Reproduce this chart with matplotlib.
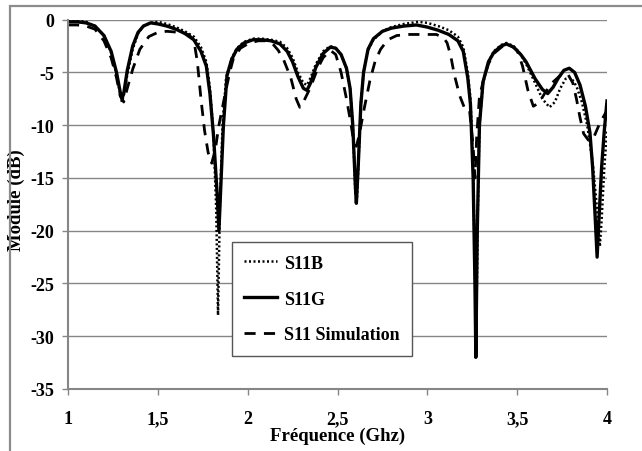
import numpy as np
import matplotlib.pyplot as plt
from matplotlib.patches import Rectangle

# S11 mesure G (solid)
freq_g = [1.00, 1.05, 1.10, 1.15, 1.20, 1.24, 1.27, 1.29, 1.30, 1.31, 1.33, 1.36, 1.39, 1.42,
          1.46, 1.50, 1.55, 1.60, 1.65, 1.70, 1.74, 1.77, 1.79, 1.81, 1.83, 1.84, 1.85, 1.865,
          1.885, 1.91, 1.94, 1.98, 2.03, 2.08, 2.13, 2.18, 2.22, 2.25, 2.28, 2.31, 2.33, 2.35,
          2.38, 2.42, 2.46, 2.49, 2.52, 2.55, 2.57, 2.585, 2.60, 2.605, 2.615, 2.63, 2.645,
          2.67, 2.70, 2.75, 2.80, 2.87, 2.94, 3.00, 3.06, 3.12, 3.17, 3.20, 3.225, 3.24, 3.255,
          3.265, 3.27, 3.278, 3.29, 3.31, 3.34, 3.37, 3.41, 3.44, 3.48, 3.52, 3.55, 3.60, 3.64,
          3.67, 3.70, 3.73, 3.76, 3.79, 3.82, 3.85, 3.88, 3.905, 3.92, 3.935, 3.945, 3.955,
          3.97, 3.985, 4.00]
s11g = [-0.2, -0.2, -0.3, -0.6, -1.5, -3.0, -5.0, -6.8, -7.5, -7.0, -4.8, -2.5, -1.2, -0.6,
        -0.3, -0.4, -0.6, -0.9, -1.3, -1.9, -3.0, -4.4, -7.0, -11.0, -16.5, -20.0, -16.0, -10.0,
        -5.3, -3.8, -2.8, -2.2, -1.9, -1.9, -2.0, -2.3, -3.0, -4.0, -5.4, -6.5, -6.7, -6.0,
        -4.5, -3.2, -2.6, -2.7, -3.3, -4.6, -6.5, -10.0, -16.0, -17.4, -14.0, -8.0, -5.0,
        -2.8, -1.8, -1.1, -0.8, -0.6, -0.5, -0.7, -1.0, -1.4, -2.0, -3.0, -5.5, -8.0, -15.0,
        -25.0, -32.0, -20.0, -10.0, -5.9, -4.0, -3.1, -2.5, -2.3, -2.6, -3.3, -4.0, -5.6, -6.6,
        -7.0, -6.4, -5.5, -4.8, -4.6, -5.0, -6.2, -8.2, -10.7, -14.0, -19.0, -22.5, -19.0,
        -14.0, -10.5, -7.7]

# S11 mesure B (dotted)
freq_b = [1.00, 1.05, 1.10, 1.15, 1.20, 1.24, 1.27, 1.29, 1.30, 1.31, 1.33, 1.36, 1.39, 1.42,
          1.46, 1.50, 1.55, 1.60, 1.65, 1.70, 1.74, 1.77, 1.79, 1.81, 1.825, 1.835, 1.845, 1.86,
          1.88, 1.91, 1.94, 1.98, 2.03, 2.08, 2.13, 2.18, 2.22, 2.25, 2.28, 2.31, 2.33, 2.35,
          2.38, 2.42, 2.46, 2.49, 2.52, 2.55, 2.57, 2.585, 2.60, 2.608, 2.618, 2.63, 2.645,
          2.67, 2.70, 2.75, 2.80, 2.87, 2.95, 3.00, 3.06, 3.12, 3.17, 3.20, 3.225, 3.24, 3.255,
          3.265, 3.272, 3.28, 3.29, 3.31, 3.34, 3.37, 3.41, 3.44, 3.48, 3.52, 3.55, 3.60, 3.64,
          3.68, 3.71, 3.74, 3.77, 3.80, 3.83, 3.86, 3.89, 3.92, 3.945, 3.96, 3.97, 3.985, 4.00]
s11b = [-0.1, -0.1, -0.2, -0.6, -1.5, -3.1, -5.2, -7.0, -7.8, -7.2, -5.2, -2.8, -1.3, -0.6,
        -0.3, -0.2, -0.4, -0.7, -1.1, -1.6, -2.6, -4.0, -6.5, -11.0, -18.0, -28.0, -18.0, -10.0,
        -5.5, -3.7, -2.7, -2.1, -1.8, -1.8, -1.9, -2.1, -2.7, -3.6, -5.0, -6.0, -6.2, -5.5,
        -4.2, -3.0, -2.5, -2.7, -3.3, -4.6, -6.5, -10.0, -16.5, -17.0, -13.0, -8.0, -5.0,
        -2.9, -1.9, -1.1, -0.7, -0.4, -0.2, -0.3, -0.6, -1.0, -1.6, -2.6, -5.0, -7.5, -14.0,
        -24.0, -30.0, -19.0, -10.0, -6.0, -4.0, -3.0, -2.4, -2.2, -2.5, -3.3, -4.2, -6.0, -7.5,
        -8.3, -7.8, -6.5, -5.6, -5.5, -6.3, -7.8, -10.0, -13.5, -18.0, -21.5, -19.0, -14.0, -10.5]

# S11 simulation (dashed)
freq_sim = [1.00, 1.05, 1.10, 1.15, 1.20, 1.24, 1.27, 1.29, 1.31, 1.33, 1.36, 1.40, 1.45, 1.50,
            1.55, 1.62, 1.67, 1.70, 1.72, 1.74, 1.76, 1.78, 1.80, 1.82, 1.84, 1.875, 1.90, 1.92,
            1.96, 2.01, 2.06, 2.10, 2.14, 2.17, 2.20, 2.24, 2.27, 2.29, 2.31, 2.35, 2.39, 2.42,
            2.46, 2.49, 2.52, 2.55, 2.57, 2.59, 2.605, 2.62, 2.65, 2.68, 2.71, 2.74, 2.78, 2.83,
            2.90, 2.98, 3.05, 3.09, 3.11, 3.13, 3.15, 3.18, 3.21, 3.235, 3.255, 3.265, 3.275,
            3.29, 3.31, 3.34, 3.37, 3.42, 3.47, 3.50, 3.53, 3.56, 3.59, 3.62, 3.66, 3.70, 3.74,
            3.78, 3.81, 3.83, 3.85, 3.87, 3.90, 3.93, 3.96, 4.00]
s11_sim = [-0.5, -0.5, -0.6, -0.9, -2.0, -3.6, -5.5, -7.2, -7.8, -6.5, -4.7, -2.8, -1.6, -1.2,
           -1.1, -1.2, -1.4, -1.9, -4.0, -7.5, -10.5, -12.6, -13.6, -12.3, -10.0, -7.0, -5.0, -3.7,
           -2.7, -2.2, -2.0, -2.0, -2.3, -2.9, -3.8, -5.5, -7.5, -8.3, -7.8, -6.4, -4.6, -3.6,
           -2.9, -3.3, -5.0, -7.5, -9.4, -11.5, -12.0, -11.0, -8.3, -5.8, -3.9, -2.8, -1.9, -1.5,
           -1.4, -1.4, -1.4, -1.7, -2.2, -3.4, -5.2, -7.2, -8.5, -8.6, -12.0, -15.0, -11.0,
           -7.3, -5.9, -4.2, -3.2, -2.5, -2.5, -2.9, -4.4, -6.7, -8.2, -7.9, -6.8, -5.9, -5.3,
           -5.1, -6.0, -7.5, -9.3, -10.8, -11.5, -11.0, -9.8, -8.6]

xticks = [1, 1.5, 2, 2.5, 3, 3.5, 4]
xtick_labels = ["1", "1,5", "2", "2,5", "3", "3,5", "4"]
yticks = [0, -5, -10, -15, -20, -25, -30, -35]

plt.rcParams['font.family'] = ['Liberation Serif', 'DejaVu Serif']
plt.rcParams['font.weight'] = 'bold'
plt.rcParams['axes.unicode_minus'] = False

fig = plt.figure(figsize=(6.42, 4.52), dpi=100)
ax = fig.add_axes([68/642, 1-390/452, 539/642, 369.3/452])

# outer chart frame (cut on the right and bottom)
fig.patches.append(Rectangle((10/642, -0.1), 1.2, 1.1 - 7/452, transform=fig.transFigure,
                             fill=False, edgecolor='#8c8c8c', linewidth=1.6))

grey = '#868686'
ax.plot(freq_b, s11b, color='black', linestyle=(0, (0.8, 1.0)), linewidth=1.8, label='S11B')
ax.plot(freq_g, s11g, color='black', linestyle='-', linewidth=2.4, label='S11G')
ax.plot(freq_sim, s11_sim, color='black', linestyle=(0, (4, 3)), linewidth=2.0,
        label='S11 Simulation')

ax.set_xlim(1, 4)
ax.set_ylim(-35, 0)
ax.set_xticks(xticks)
ax.set_xticklabels(xtick_labels)
ax.set_yticks(yticks)
ax.yaxis.grid(True, color=grey, linewidth=1.0)
ax.set_axisbelow(True)
for side in ['top', 'right']:
    ax.spines[side].set_visible(False)
for side in ['left', 'bottom']:
    ax.spines[side].set_color(grey)
    ax.spines[side].set_linewidth(1.5)
ax.tick_params(axis='both', colors=grey, labelcolor='black', labelsize=13, length=4, width=1)
ax.tick_params(axis='x', pad=11)
ax.tick_params(axis='y', pad=6)
for lab in ax.get_xticklabels() + ax.get_yticklabels():
    lab.set_fontweight('bold')

ax.set_xlabel('Fréquence (Ghz)', fontsize=13.5, fontweight='bold', labelpad=0)
ax.set_ylabel('Module (dB)', fontsize=13.5, fontweight='bold')
ax.yaxis.set_label_coords(-0.08, 0.514)

leg = ax.legend(loc='lower left', bbox_to_anchor=(0.304, 0.089), fancybox=False,
                framealpha=1, edgecolor='#555555', fontsize=13, handlelength=1.8,
                handletextpad=0.4, labelspacing=1.05, borderpad=0.7, borderaxespad=0)
leg.get_frame().set_linewidth(1.0)
for t in leg.get_texts():
    t.set_fontweight('bold')

fig.savefig('out.png', dpi=100)
